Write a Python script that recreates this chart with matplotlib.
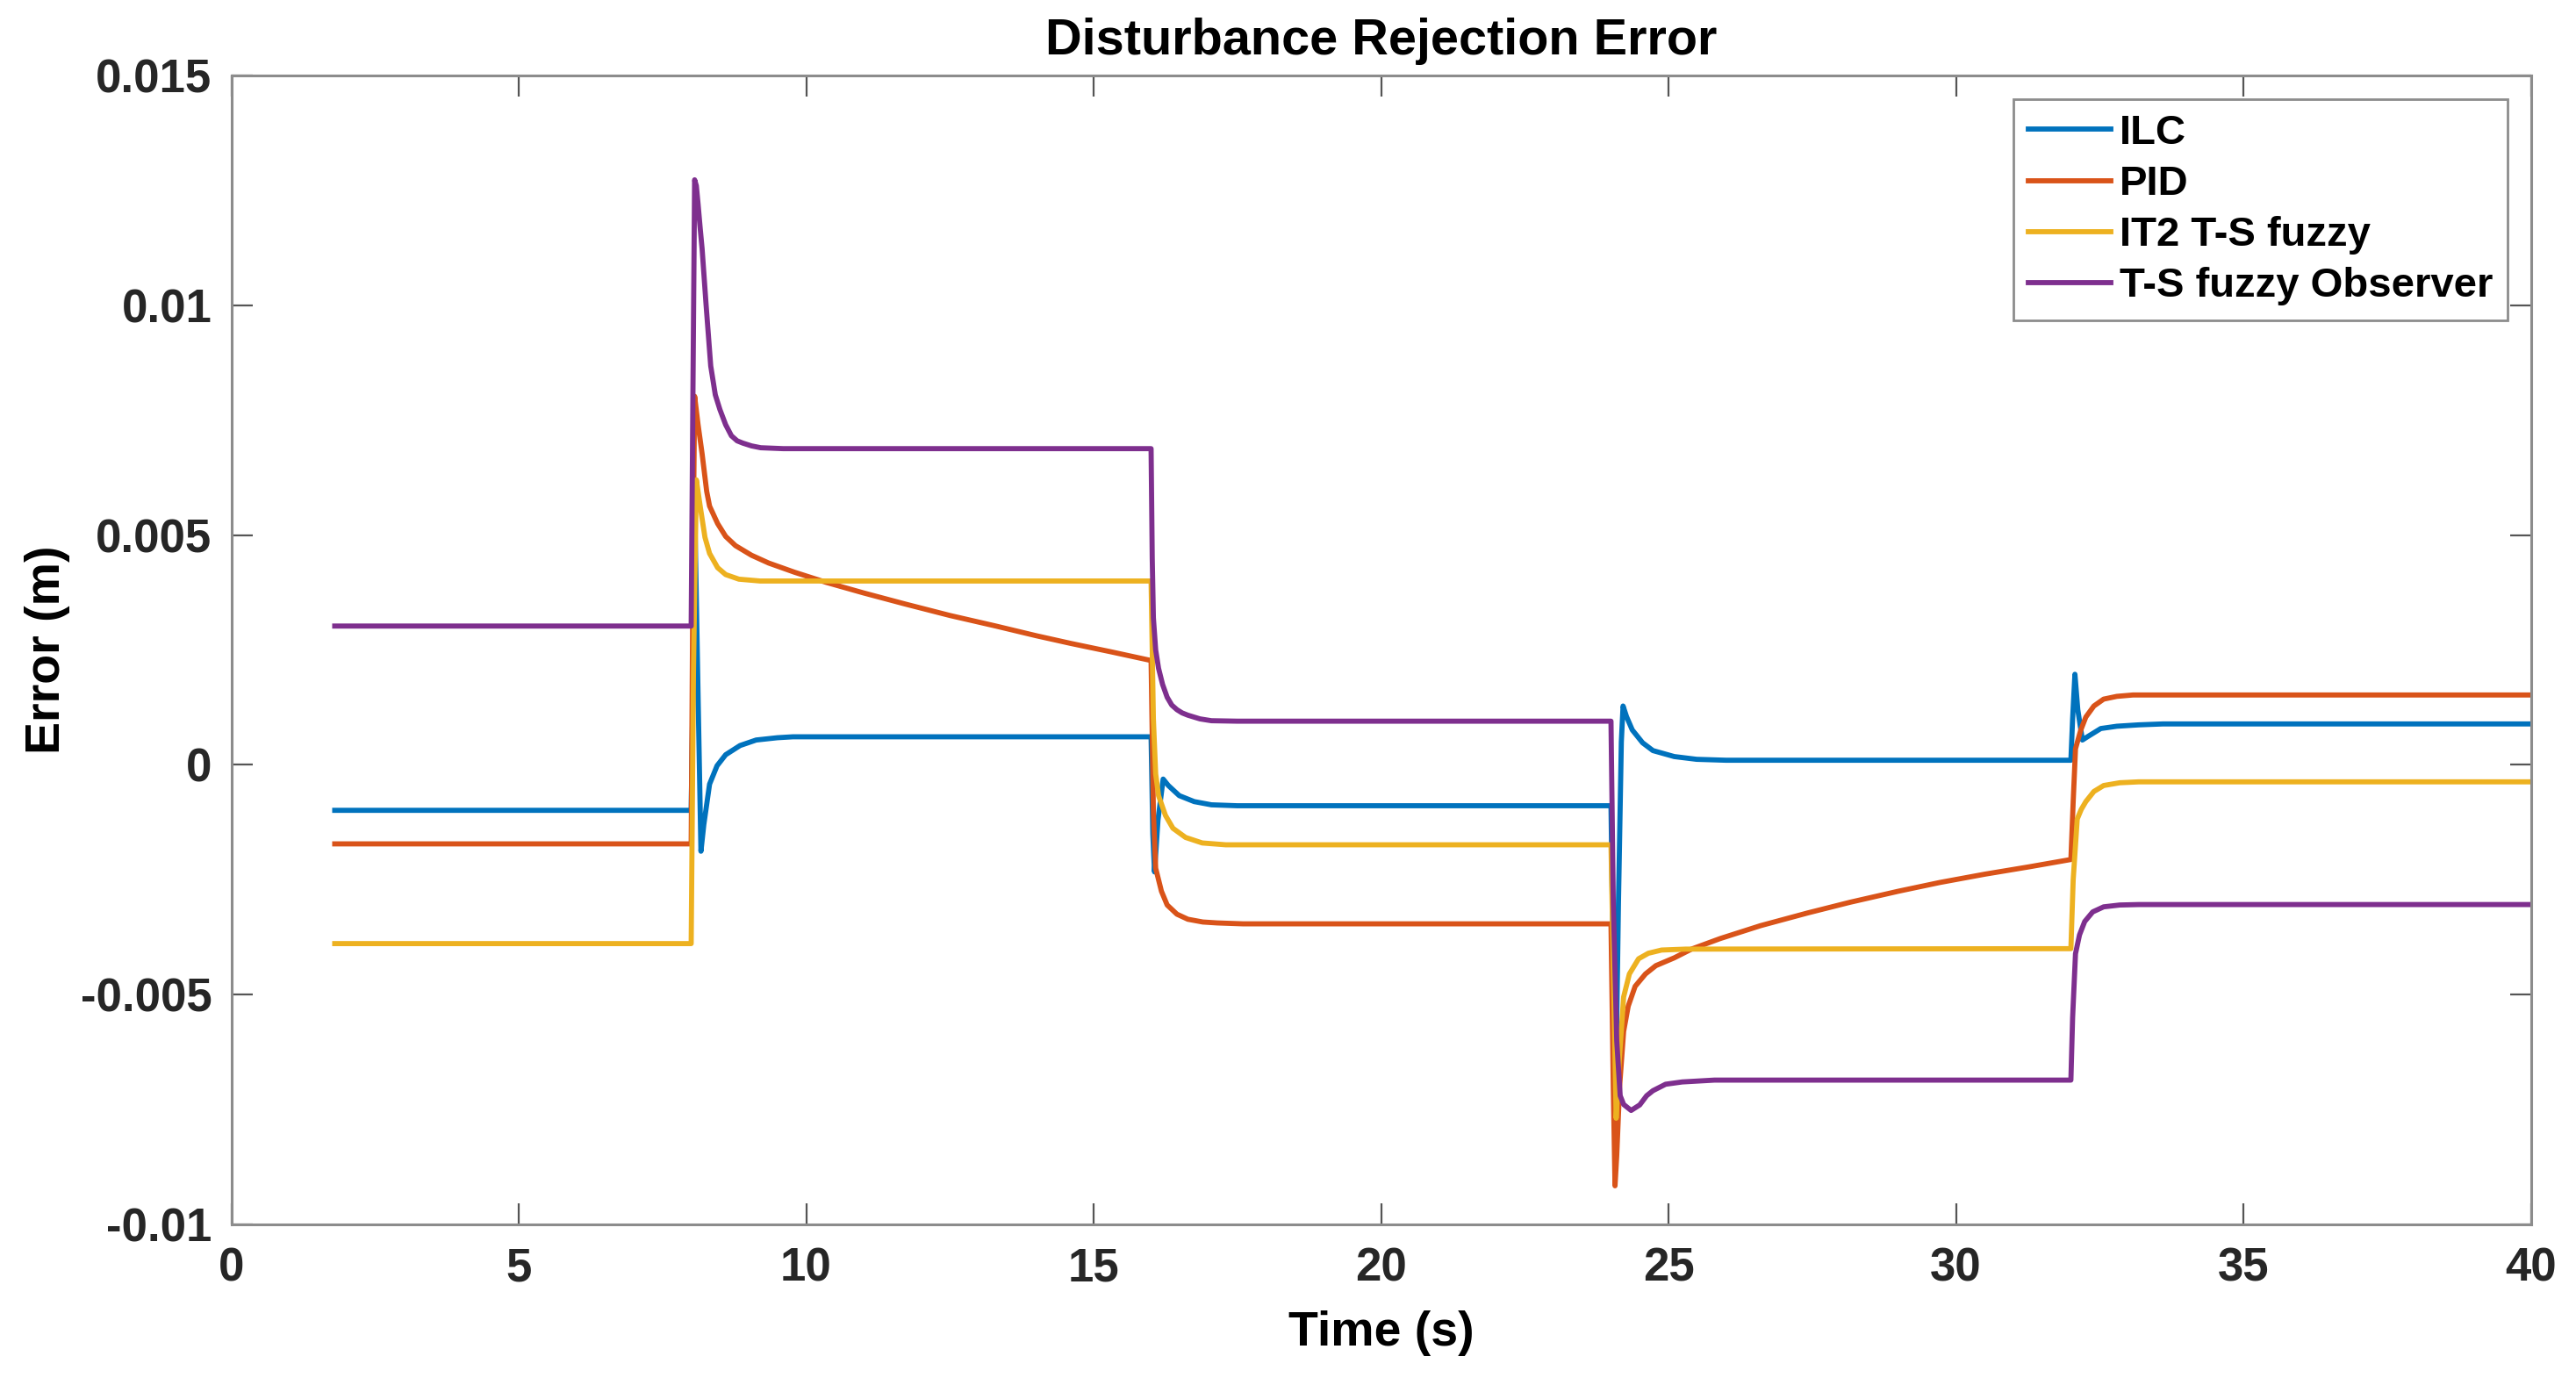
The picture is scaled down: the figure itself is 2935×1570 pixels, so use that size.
import matplotlib
matplotlib.use("Agg")
import matplotlib.pyplot as plt
from matplotlib.ticker import FuncFormatter

# Values (time in s, error in m)
ilc_t = [1.8, 8.0, 8.07, 8.12, 8.17, 8.22, 8.32, 8.45, 8.60, 8.85, 9.13, 9.5, 9.77, 16.0,
         16.03, 16.06, 16.12, 16.21, 16.3, 16.49, 16.75, 17.05, 17.5, 24.0,
         24.04, 24.08, 24.13, 24.18, 24.21, 24.27, 24.37, 24.55, 24.73, 25.1, 25.49, 26.0, 32.0,
         32.03, 32.07, 32.12, 32.20, 32.3, 32.52, 32.8, 33.18, 33.6, 40.0]
ilc_e = [-0.00099, -0.00099, 0.0050, 0.0015, -0.00188, -0.0013, -0.00042, -0.00002, 0.00022, 0.00042, 0.00054, 0.00059, 0.00061, 0.00061,
         -0.0015, -0.00233, -0.0012, -0.00031, -0.00045, -0.00067, -0.00080, -0.00087, -0.00089, -0.00089,
         -0.0045, -0.0073, -0.0030, 0.0005, 0.00128, 0.00105, 0.00076, 0.00048, 0.00031, 0.00018, 0.00012, 0.00010, 0.00010,
         0.0010, 0.00197, 0.0012, 0.00054, 0.00062, 0.00079, 0.00084, 0.00087, 0.00089, 0.00089]

pid_t = [1.8, 8.0, 8.03, 8.06, 8.12, 8.19, 8.27, 8.32, 8.46, 8.60, 8.77, 9.05, 9.35, 9.8, 10.35, 11.0, 11.72,
         12.5, 13.3, 14.0, 14.61, 15.3, 16.0,
         16.04, 16.08, 16.18, 16.28, 16.45, 16.64, 16.9, 17.15, 17.6, 24.0,
         24.04, 24.07, 24.10, 24.15, 24.22, 24.3, 24.42, 24.6, 24.78, 25.1, 25.4, 25.9, 26.6, 27.43, 28.16,
         29.0, 29.72, 30.5, 31.27, 32.0,
         32.04, 32.08, 32.17, 32.26, 32.4, 32.57, 32.8, 33.08, 40.0]
pid_e = [-0.00172, -0.00172, 0.0040, 0.00802, 0.0074, 0.00677, 0.00595, 0.00563, 0.00525, 0.00497, 0.00477, 0.00456, 0.00439, 0.00419, 0.00397, 0.00374, 0.00350,
         0.00325, 0.00302, 0.00281, 0.00264, 0.00246, 0.00227,
         -0.0010, -0.00225, -0.00275, -0.00305, -0.00325, -0.00336, -0.00342, -0.00344, -0.00346, -0.00346,
         -0.0070, -0.00916, -0.0085, -0.0070, -0.0058, -0.00525, -0.00482, -0.00455, -0.00437, -0.0042, -0.00401, -0.00378, -0.00350, -0.00322, -0.00299,
         -0.00275, -0.00256, -0.00238, -0.00222, -0.00206,
         -0.0008, 0.00035, 0.00075, 0.00104, 0.00128, 0.00143, 0.00149, 0.00152, 0.00152]

it2_t = [1.8, 8.0, 8.04, 8.09, 8.16, 8.24, 8.32, 8.46, 8.60, 8.83, 9.2, 16.0,
         16.04, 16.08, 16.13, 16.25, 16.38, 16.6, 16.89, 17.3, 24.0,
         24.05, 24.09, 24.14, 24.22, 24.32, 24.48, 24.65, 24.88, 25.3, 32.0,
         32.04, 32.11, 32.18, 32.26, 32.4, 32.57, 32.85, 33.18, 40.0]
it2_e = [-0.00389, -0.00389, 0.0020, 0.0062, 0.0056, 0.00495, 0.0046, 0.00429, 0.00414, 0.00404, 0.0040, 0.0040,
         0.0010, -0.0002, -0.00067, -0.0011, -0.00138, -0.00158, -0.00170, -0.00174, -0.00174,
         -0.0050, -0.00769, -0.0065, -0.00505, -0.00455, -0.00422, -0.0041, -0.00403, -0.00401, -0.0040,
         -0.0025, -0.00118, -0.00097, -0.00080, -0.00058, -0.00045, -0.00039, -0.00037, -0.00037]

tso_t = [1.8, 8.0, 8.03, 8.06, 8.09, 8.12, 8.155, 8.19, 8.26, 8.34, 8.42, 8.50, 8.60, 8.70, 8.8, 8.9, 9.05, 9.21, 9.6, 16.0,
         16.02, 16.04, 16.08, 16.13, 16.2, 16.28, 16.36, 16.45, 16.54, 16.64, 16.85, 17.05, 17.5, 24.0,
         24.04, 24.10, 24.16, 24.22, 24.35, 24.5, 24.62, 24.73, 24.95, 25.24, 25.8, 32.0,
         32.03, 32.08, 32.15, 32.24, 32.38, 32.57, 32.85, 33.18, 40.0]
tso_e = [0.00302, 0.00302, 0.0080, 0.01273, 0.0126, 0.0122, 0.0117, 0.01123, 0.0100, 0.00868, 0.00805, 0.00773, 0.0074, 0.00716, 0.00705, 0.0070, 0.00694, 0.0069, 0.00688, 0.00688,
         0.0045, 0.0032, 0.0025, 0.0021, 0.00175, 0.00147, 0.0013, 0.0012, 0.00113, 0.00108, 0.0010, 0.00096, 0.00095, 0.00095,
         -0.0030, -0.0060, -0.0072, -0.00739, -0.00752, -0.0074, -0.0072, -0.00709, -0.00695, -0.0069, -0.00686, -0.00686,
         -0.0055, -0.00411, -0.0037, -0.00341, -0.0032, -0.00309, -0.00305, -0.00304, -0.00304]

series_names = ['ILC', 'PID', 'IT2 T-S fuzzy', 'T-S fuzzy Observer']
series_t = [ilc_t, pid_t, it2_t, tso_t]
series_e = [ilc_e, pid_e, it2_e, tso_e]
colors = ['#0072BD', '#D95319', '#EDB120', '#7E2F8E']

plt.rcParams['font.family'] = ['Liberation Sans', 'DejaVu Sans']
plt.rcParams['font.weight'] = 'bold'

fig = plt.figure(figsize=(29.35, 15.70), dpi=100)
ax = fig.add_axes([263.5 / 2935, 1 - 1395 / 1570, 2620 / 2935, 1309 / 1570])

for t, e, name, c in zip(series_t, series_e, series_names, colors):
    ax.plot(t, e, color=c, linewidth=4.2, label=name, solid_joinstyle='round')

ax.set_xlim(0, 40)
ax.set_ylim(-0.01, 0.015)
ax.set_xticks(range(0, 41, 5))
ax.set_yticks([-0.01, -0.005, 0, 0.005, 0.01, 0.015])
ax.yaxis.set_major_formatter(FuncFormatter(lambda v, pos: f'{v:g}'))

# MATLAB style frame: gray box, inward ticks on all four sides
for side in ax.spines.values():
    side.set_color('#8c8c8c')
    side.set_linewidth(2.2)
ax.tick_params(direction='in', length=17, width=1.6, color='#555555',
               top=True, right=True, labelsize=38, labelcolor='#262626')
ax.tick_params(axis='x', pad=18)
ax.tick_params(axis='y', pad=16)

ax.set_title('Disturbance Rejection Error', fontsize=41.5, fontweight='bold', pad=17)
ax.set_xlabel('Time (s)', fontsize=40, fontweight='bold')
ax.set_ylabel('Error (m)', fontsize=40, fontweight='bold')
ax.xaxis.set_label_coords(0.5, -0.075)
ax.yaxis.set_label_coords(-0.070, 0.5)

leg = ax.legend(loc='upper right', bbox_to_anchor=(0.9899, 0.9794), borderaxespad=0,
                fontsize=34, handlelength=2.0, handletextpad=0.2, labelspacing=0.3,
                borderpad=0.36, fancybox=False, framealpha=1)
leg.get_frame().set_edgecolor('#8c8c8c')
leg.get_frame().set_linewidth(2.0)

plt.savefig('out.png', dpi=100)
plt.close()
